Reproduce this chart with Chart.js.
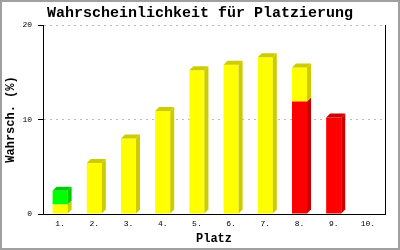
<!DOCTYPE html>
<html>
<head>
<meta charset="utf-8">
<script src="https://cdn.jsdelivr.net/npm/chart.js@4"></script>
<style>
  body { margin: 0; background: #fff; }
  canvas { display: block; }
</style>
</head>
<body>
<canvas id="chart" width="400" height="250"></canvas>
<script>
/* DATA */
var categories = ["1.", "2.", "3.", "4.", "5.", "6.", "7.", "8.", "9.", "10."];
var redValues = [0, 0, 0, 0, 0, 0, 0, 11.9, 10.2, 0];
var yellowValues = [1.0, 5.4, 8.0, 10.9, 15.2, 15.8, 16.6, 3.6, 0, 0];
var greenValues = [1.45, 0, 0, 0, 0, 0, 0, 0, 0, 0];
var yTicks = [0, 10, 20];

var mono = "'Liberation Mono', 'DejaVu Sans Mono', monospace";
var depth = 4;

// darker colours for the side and top faces
var sideColors = { "#ff0000": "#cc0000", "#ffff00": "#cccc00", "#00ff00": "#00cc00" };

/* 3D BAR FACES */
const bars3d = {
  id: "bars3d",
  afterDatasetsDraw(chart) {
    const ctx = chart.ctx;
    const sets = chart.data.datasets;
    ctx.save();
    sets.forEach((ds, di) => {
      const meta = chart.getDatasetMeta(di);
      meta.data.forEach((bar, i) => {
        if (!ds.data[i]) return;
        // is this the topmost segment of the stack?
        let top = true;
        for (let k = di + 1; k < sets.length; k++) {
          if (sets[k].data[i]) top = false;
        }
        const p = bar.getProps(["x", "y", "base", "width"], true);
        const left = p.x - p.width / 2;
        const right = p.x + p.width / 2;
        const y0 = Math.min(p.y, p.base);
        const y1 = Math.max(p.y, p.base);
        ctx.fillStyle = sideColors[ds.backgroundColor];
        ctx.beginPath();
        ctx.moveTo(right, y0);
        ctx.lineTo(right + depth, y0 - depth);
        ctx.lineTo(right + depth, y1 - depth);
        ctx.lineTo(right, y1);
        ctx.closePath();
        ctx.fill();
        if (top) {
          ctx.beginPath();
          ctx.moveTo(left, y0);
          ctx.lineTo(left + depth, y0 - depth);
          ctx.lineTo(right + depth, y0 - depth);
          ctx.lineTo(right, y0);
          ctx.closePath();
          ctx.fill();
        }
      });
    });
    ctx.restore();
  },
  afterDraw(chart) {
    // outer frame
    const ctx = chart.ctx;
    ctx.save();
    ctx.strokeStyle = "#a0a0a0";
    ctx.lineWidth = 2;
    ctx.strokeRect(1, 1, chart.width - 2, chart.height - 2);
    ctx.restore();
  },
};

const whiteBg = {
  id: "whiteBg",
  beforeDraw(chart) {
    const ctx = chart.ctx;
    ctx.save();
    ctx.fillStyle = "#fff";
    ctx.fillRect(0, 0, chart.width, chart.height);
    ctx.restore();
  },
};

new Chart("chart", {
  type: "bar",
  data: {
    labels: categories,
    datasets: [
      { data: redValues, backgroundColor: "#ff0000" },
      { data: yellowValues, backgroundColor: "#ffff00" },
      { data: greenValues, backgroundColor: "#00ff00" },
    ],
  },
  options: {
    responsive: false,
    animation: false,
    events: [],
    layout: { padding: 0 },
    datasets: {
      bar: {
        categoryPercentage: 1,
        barPercentage: 0.44,
        borderWidth: 0,
      },
    },
    plugins: {
      legend: { display: false },
      tooltip: { enabled: false },
      title: {
        display: true,
        text: "Wahrscheinlichkeit für Platzierung",
        color: "#000",
        font: { family: mono, size: 15, weight: "bold" },
        padding: { top: 4, bottom: 3 },
      },
    },
    scales: {
      x: {
        stacked: true,
        grid: { display: false, drawTicks: false },
        border: { display: true, color: "#000", width: 1 },
        ticks: {
          color: "#000",
          padding: 5,
          maxRotation: 0,
          font: { family: mono, size: 8 },
        },
        title: {
          display: true,
          text: "Platz",
          color: "#000",
          font: { family: mono, size: 12, weight: "bold" },
          padding: { top: 0, bottom: 4 },
        },
        afterFit: (scale) => {
          scale.height = 36;
        },
      },
      y: {
        stacked: true,
        min: 0,
        max: 20,
        afterBuildTicks: (scale) => {
          scale.ticks = yTicks.map((v) => ({ value: v }));
        },
        grid: {
          color: (c) => (c.tick && c.tick.value === 0 ? "rgba(0,0,0,0)" : "#bbbbbb"),
          tickColor: "#000",
          tickLength: 5,
          lineWidth: 1,
        },
        border: { display: true, color: "#000", width: 1, dash: [2, 4] },
        ticks: {
          color: "#000",
          padding: 6,
          font: { family: mono, size: 8 },
        },
        title: {
          display: true,
          text: "Wahrsch. (%)",
          color: "#000",
          font: { family: mono, size: 12, weight: "bold" },
          padding: { top: 4, bottom: 0 },
        },
        afterFit: (scale) => {
          scale.width = 43;
        },
      },
      // right-hand axis line only
      y2: {
        position: "right",
        min: 0,
        max: 20,
        grid: { display: false, drawTicks: false },
        border: { display: true, color: "#000", width: 1 },
        ticks: { display: false },
        afterFit: (scale) => {
          scale.width = 15;
        },
      },
    },
  },
  plugins: [whiteBg, bars3d],
});
</script>
</body>
</html>
